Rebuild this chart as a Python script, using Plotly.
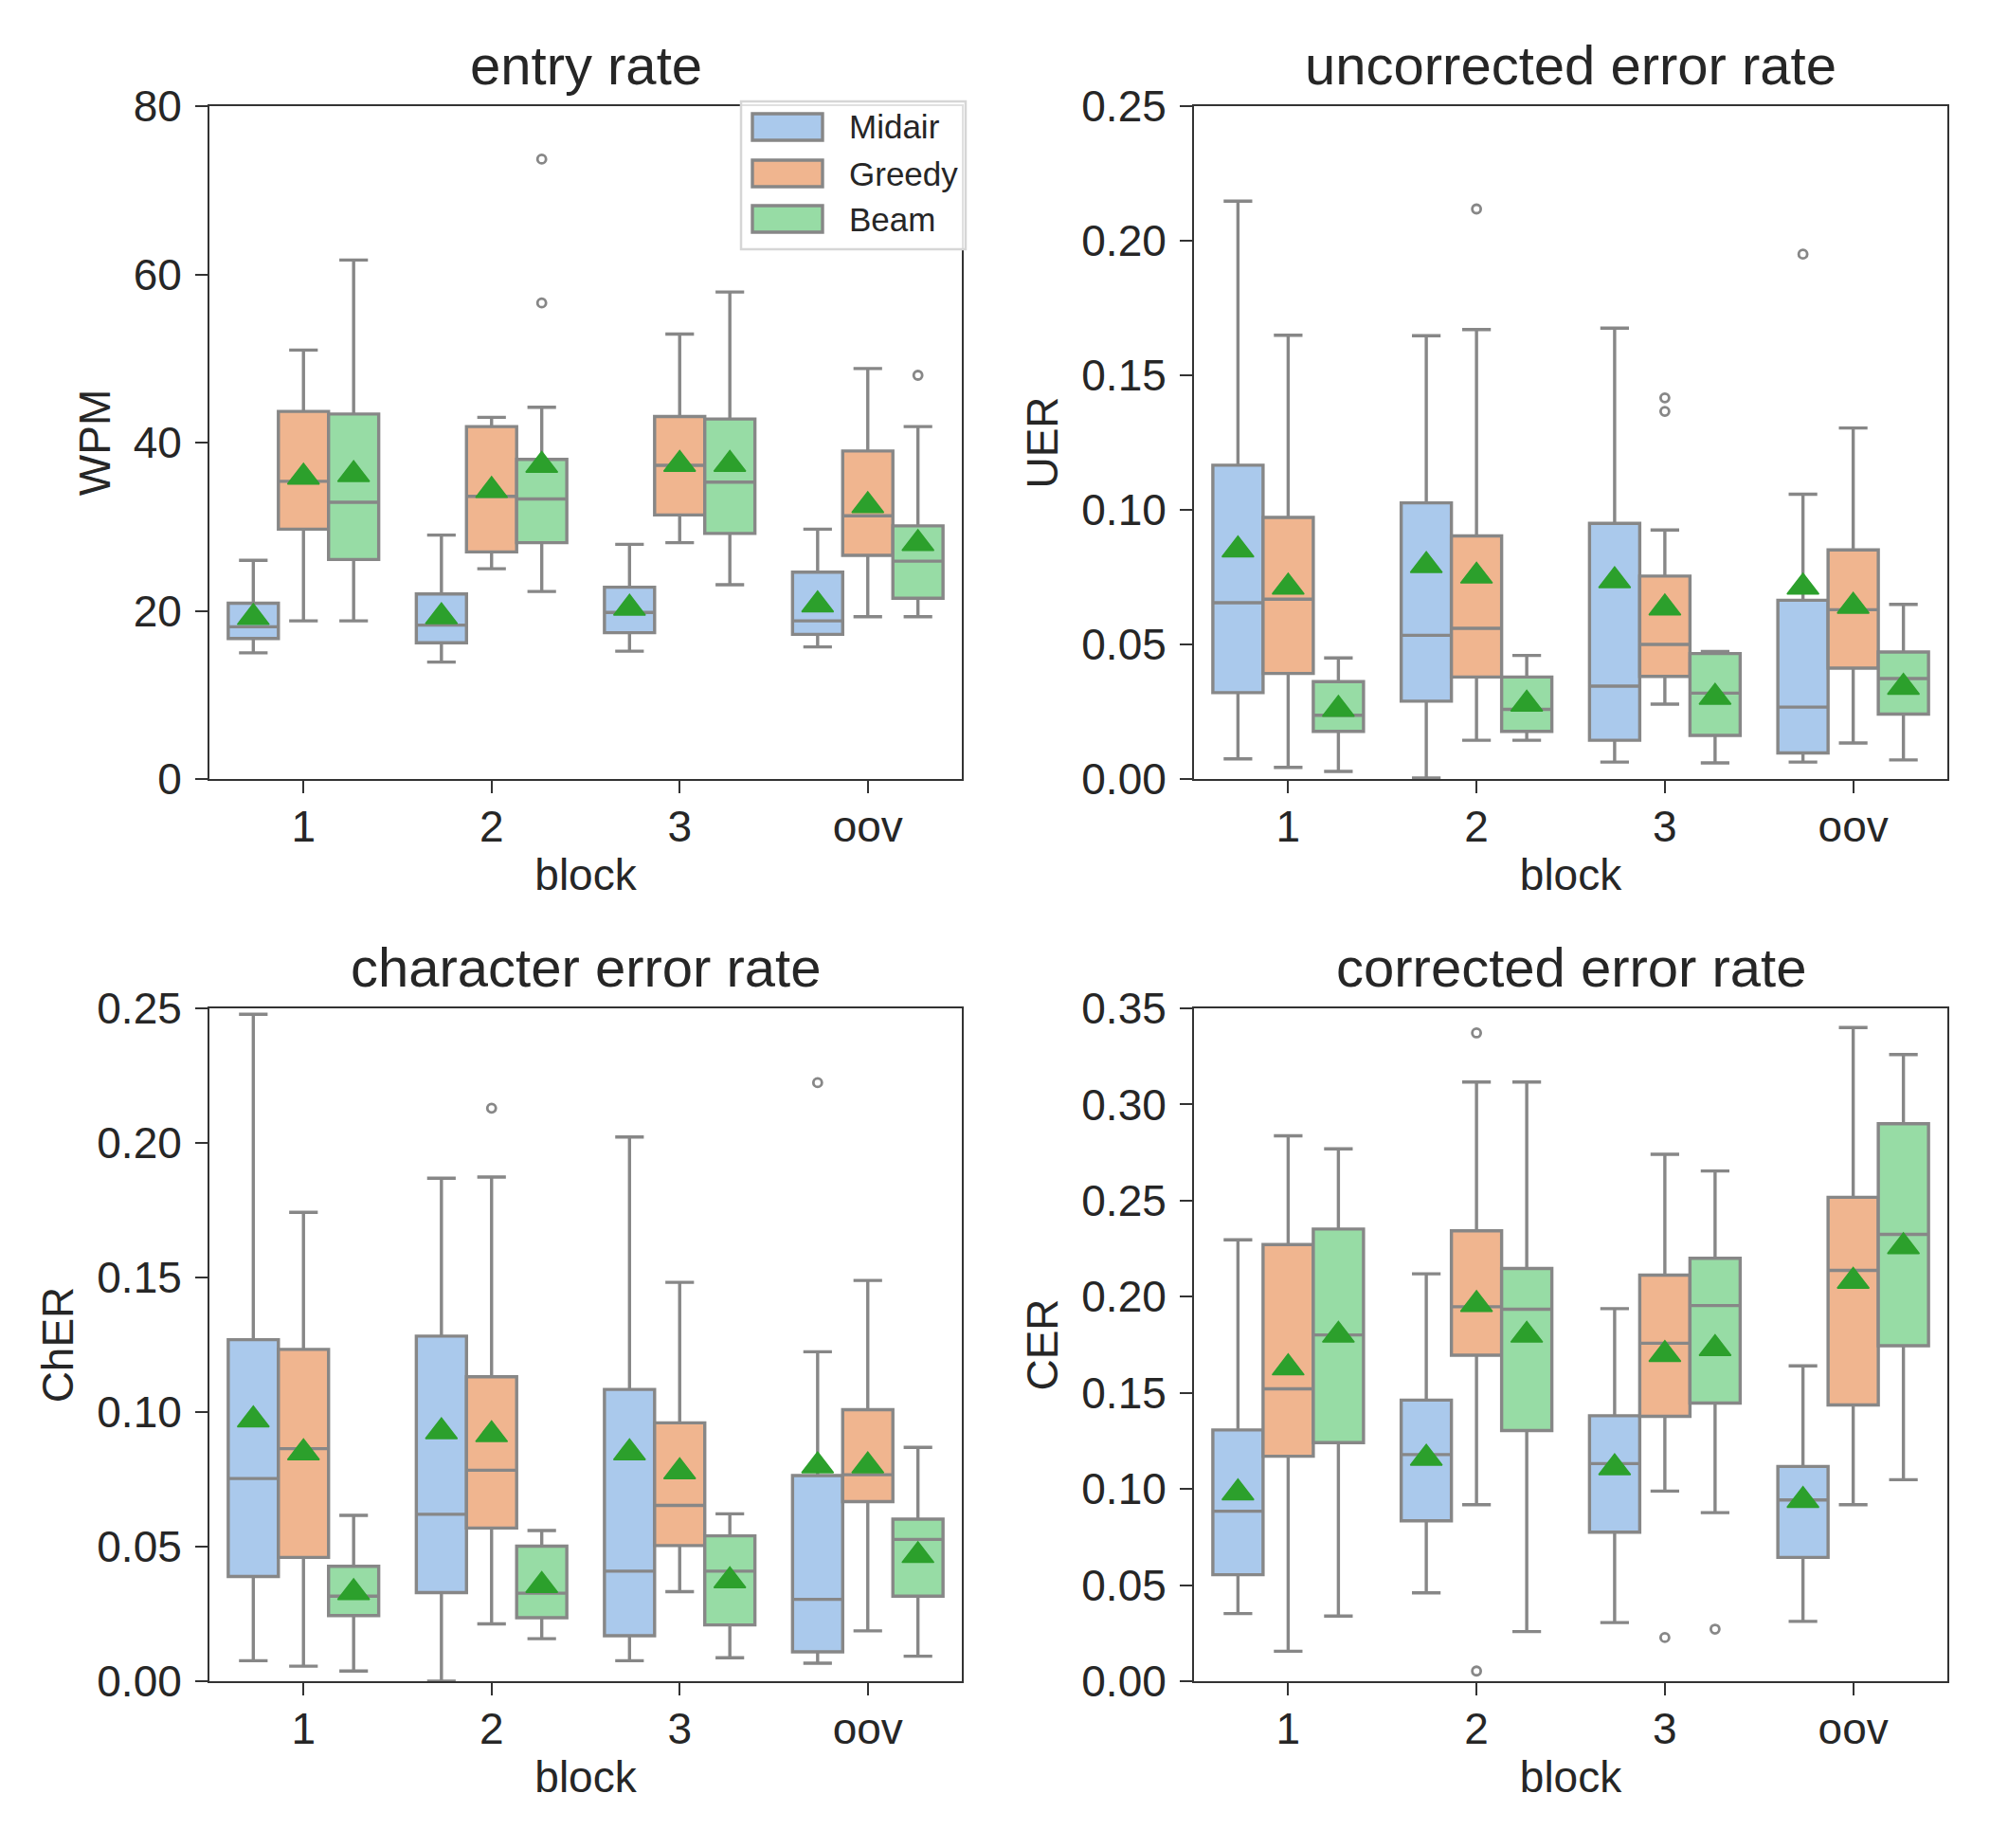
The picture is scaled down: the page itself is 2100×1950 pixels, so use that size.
import plotly.graph_objects as go

BLOCKS = ["1", "2", "3", "oov"]
HUES = ["Midair", "Greedy", "Beam"]

# ---------------- entry rate (WPM) ----------------
WPM_LO = {"Midair": [15.0, 13.9, 15.2, 15.7], "Greedy": [18.8, 25.0, 28.1, 19.3], "Beam": [18.8, 22.3, 23.1, 19.3]}
WPM_Q1 = {"Midair": [16.7, 16.2, 17.4, 17.2], "Greedy": [29.7, 27.0, 31.4, 26.6], "Beam": [26.1, 28.1, 29.2, 21.5]}
WPM_MED = {"Midair": [18.1, 18.3, 19.8, 18.8], "Greedy": [35.4, 33.6, 37.3, 31.3], "Beam": [32.9, 33.3, 35.3, 25.9]}
WPM_Q3 = {"Midair": [20.9, 22.0, 22.8, 24.6], "Greedy": [43.7, 41.9, 43.1, 39.0], "Beam": [43.4, 38.0, 42.8, 30.1]}
WPM_HI = {"Midair": [26.0, 29.0, 27.9, 29.7], "Greedy": [51.0, 43.0, 52.9, 48.8], "Beam": [61.7, 44.2, 57.9, 41.9]}
WPM_MEAN = {"Midair": [19.2, 19.3, 20.3, 20.7], "Greedy": [35.9, 34.3, 37.4, 32.5], "Beam": [36.2, 37.3, 37.4, 28.0]}
WPM_OUT_HUE = ["Beam", "Beam", "Beam"]
WPM_OUT_BLOCK = [1, 1, 3]
WPM_OUT_VAL = [73.7, 56.6, 48.0]

# ---------------- uncorrected error rate (UER) ----------------
UER_LO = {"Midair": [0.0075, 0.0004, 0.0063, 0.0063], "Greedy": [0.0043, 0.0144, 0.0278, 0.0134], "Beam": [0.0028, 0.0144, 0.0060, 0.0071]}
UER_Q1 = {"Midair": [0.0321, 0.0289, 0.0144, 0.0097], "Greedy": [0.0392, 0.0379, 0.0381, 0.0412], "Beam": [0.0177, 0.0177, 0.0162, 0.0241]}
UER_MED = {"Midair": [0.0655, 0.0534, 0.0345, 0.0267], "Greedy": [0.0668, 0.0560, 0.0500, 0.0629], "Beam": [0.0237, 0.0259, 0.0319, 0.0373]}
UER_Q3 = {"Midair": [0.1166, 0.1026, 0.0950, 0.0664], "Greedy": [0.0972, 0.0903, 0.0754, 0.0851], "Beam": [0.0362, 0.0379, 0.0466, 0.0472]}
UER_HI = {"Midair": [0.2147, 0.1647, 0.1675, 0.1058], "Greedy": [0.1649, 0.1670, 0.0925, 0.1304], "Beam": [0.0450, 0.0459, 0.0474, 0.0649]}
UER_MEAN = {"Midair": [0.0851, 0.0793, 0.0737, 0.0713], "Greedy": [0.0713, 0.0754, 0.0636, 0.0642], "Beam": [0.0259, 0.0278, 0.0304, 0.0341]}
UER_OUT_HUE = ["Greedy", "Greedy", "Greedy", "Midair"]
UER_OUT_BLOCK = [1, 2, 2, 3]
UER_OUT_VAL = [0.2118, 0.1416, 0.1366, 0.1950]

# ---------------- character error rate (ChER) ----------------
CHER_LO = {"Midair": [0.0076, 0.0, 0.0076, 0.0067], "Greedy": [0.0056, 0.0213, 0.0333, 0.0187], "Beam": [0.0038, 0.0158, 0.0087, 0.0093]}
CHER_Q1 = {"Midair": [0.0389, 0.0329, 0.0169, 0.0109], "Greedy": [0.0460, 0.0569, 0.0504, 0.0667], "Beam": [0.0244, 0.0236, 0.0209, 0.0316]}
CHER_MED = {"Midair": [0.0753, 0.0620, 0.0409, 0.0304], "Greedy": [0.0864, 0.0784, 0.0653, 0.0767], "Beam": [0.0316, 0.0327, 0.0409, 0.0527]}
CHER_Q3 = {"Midair": [0.1269, 0.1282, 0.1084, 0.0764], "Greedy": [0.1233, 0.1131, 0.0960, 0.1009], "Beam": [0.0427, 0.0502, 0.0540, 0.0602]}
CHER_HI = {"Midair": [0.2478, 0.1869, 0.2022, 0.1224], "Greedy": [0.1742, 0.1873, 0.1482, 0.1489], "Beam": [0.0616, 0.0560, 0.0622, 0.0869]}
CHER_MEAN = {"Midair": [0.0971, 0.0927, 0.0849, 0.0800], "Greedy": [0.0849, 0.0916, 0.0778, 0.0800], "Beam": [0.0329, 0.0356, 0.0373, 0.0467]}
CHER_OUT_HUE = ["Greedy", "Midair"]
CHER_OUT_BLOCK = [1, 3]
CHER_OUT_VAL = [0.2129, 0.2224]

# ---------------- corrected error rate (CER) ----------------
CER_LO = {"Midair": [0.0352, 0.0460, 0.0305, 0.0311], "Greedy": [0.0156, 0.0918, 0.0989, 0.0918], "Beam": [0.0339, 0.0258, 0.0877, 0.1048]}
CER_Q1 = {"Midair": [0.0554, 0.0834, 0.0775, 0.0644], "Greedy": [0.1170, 0.1696, 0.1378, 0.1437], "Beam": [0.1241, 0.1304, 0.1447, 0.1745]}
CER_MED = {"Midair": [0.0884, 0.1179, 0.1132, 0.0943], "Greedy": [0.1521, 0.1948, 0.1758, 0.2137], "Beam": [0.1801, 0.1935, 0.1954, 0.2324]}
CER_Q3 = {"Midair": [0.1307, 0.1462, 0.1381, 0.1117], "Greedy": [0.2271, 0.2343, 0.2112, 0.2517], "Beam": [0.2352, 0.2147, 0.2200, 0.2900]}
CER_HI = {"Midair": [0.2296, 0.2119, 0.1938, 0.1640], "Greedy": [0.2837, 0.3117, 0.2741, 0.3400], "Beam": [0.2769, 0.3117, 0.2654, 0.3260]}
CER_MEAN = {"Midair": [0.098, 0.116, 0.111, 0.094], "Greedy": [0.163, 0.196, 0.170, 0.208], "Beam": [0.180, 0.180, 0.173, 0.226]}
CER_OUT_HUE = ["Greedy", "Greedy", "Greedy", "Beam"]
CER_OUT_BLOCK = [1, 1, 2, 2]
CER_OUT_VAL = [0.3372, 0.0053, 0.0227, 0.0271]

# ---------------- styling ----------------
HUE_COLORS = {"Midair": "#aac9ec", "Greedy": "#f0b58f", "Beam": "#97dca5"}
EDGE = "#878787"
MEAN_COLOR = "#2ca02c"
AXIS_COLOR = "#333333"
TEXT_COLOR = "#262626"
FONT = "Liberation Sans, Arial, Helvetica, sans-serif"
BOX_W = 0.8 / len(HUES)
PAGE_W, PAGE_H = 2100, 1950
BODY_MARGIN = 8  # default page margin around the plot div
W, H = PAGE_W - 2 * BODY_MARGIN, PAGE_H - 2 * BODY_MARGIN


def px_x(v):
    return (v - BODY_MARGIN) / W


def px_y(v):
    return 1 - (v - BODY_MARGIN) / H


PANELS = [
    dict(title="entry rate", ylabel="WPM", lo=WPM_LO, q1=WPM_Q1, med=WPM_MED, q3=WPM_Q3, hi=WPM_HI, mean=WPM_MEAN,
         oh=WPM_OUT_HUE, ob=WPM_OUT_BLOCK, ov=WPM_OUT_VAL, yrange=[0, 80], dtick=20, fmt="d",
         xdom=[px_x(221), px_x(1015)], ydom=[px_y(822), px_y(112)]),
    dict(title="uncorrected error rate", ylabel="UER", lo=UER_LO, q1=UER_Q1, med=UER_MED, q3=UER_Q3, hi=UER_HI, mean=UER_MEAN,
         oh=UER_OUT_HUE, ob=UER_OUT_BLOCK, ov=UER_OUT_VAL, yrange=[0, 0.25], dtick=0.05, fmt=".2f",
         xdom=[px_x(1260), px_x(2055)], ydom=[px_y(822), px_y(112)]),
    dict(title="character error rate", ylabel="ChER", lo=CHER_LO, q1=CHER_Q1, med=CHER_MED, q3=CHER_Q3, hi=CHER_HI, mean=CHER_MEAN,
         oh=CHER_OUT_HUE, ob=CHER_OUT_BLOCK, ov=CHER_OUT_VAL, yrange=[0, 0.25], dtick=0.05, fmt=".2f",
         xdom=[px_x(221), px_x(1015)], ydom=[px_y(1774), px_y(1064)]),
    dict(title="corrected error rate", ylabel="CER", lo=CER_LO, q1=CER_Q1, med=CER_MED, q3=CER_Q3, hi=CER_HI, mean=CER_MEAN,
         oh=CER_OUT_HUE, ob=CER_OUT_BLOCK, ov=CER_OUT_VAL, yrange=[0, 0.35], dtick=0.05, fmt=".2f",
         xdom=[px_x(1260), px_x(2055)], ydom=[px_y(1774), px_y(1064)]),
]

fig = go.Figure()
layout = dict(
    width=W, height=H,
    margin=dict(l=0, r=0, t=0, b=0, autoexpand=False),
    paper_bgcolor="white", plot_bgcolor="white",
    font=dict(family=FONT, color=TEXT_COLOR, size=46),
    showlegend=False,
    boxmode="overlay",
)
annotations = []
shapes = []

for p, P in enumerate(PANELS):
    suf = "" if p == 0 else str(p + 1)
    xa, ya = "x" + suf, "y" + suf
    for h, hue in enumerate(HUES):
        xs = [i + (h - 1) * BOX_W for i in range(len(BLOCKS))]
        fig.add_trace(go.Box(
            x=xs, q1=P["q1"][hue], median=P["med"][hue], q3=P["q3"][hue],
            lowerfence=P["lo"][hue], upperfence=P["hi"][hue],
            width=BOX_W, whiskerwidth=0.57, boxpoints=False,
            fillcolor=HUE_COLORS[hue], line=dict(color=EDGE, width=3.4),
            name=hue, legendgroup=hue, showlegend=False,
            xaxis=xa, yaxis=ya,
        ))
    for h, hue in enumerate(HUES):
        xs = [i + (h - 1) * BOX_W for i in range(len(BLOCKS))]
        fig.add_trace(go.Scatter(
            x=xs, y=P["mean"][hue], mode="markers",
            marker=dict(symbol="triangle-up", size=29, color=MEAN_COLOR,
                        line=dict(width=1.5, color=MEAN_COLOR)),
            showlegend=False, xaxis=xa, yaxis=ya, hoverinfo="y",
        ))
    ox = [b + (HUES.index(hh) - 1) * BOX_W for hh, b in zip(P["oh"], P["ob"])]
    fig.add_trace(go.Scatter(
        x=ox, y=P["ov"], mode="markers",
        marker=dict(symbol="circle-open", size=9, color=EDGE, line=dict(width=2.8, color=EDGE)),
        showlegend=False, xaxis=xa, yaxis=ya, hoverinfo="y",
    ))

    axis_common = dict(showline=True, linecolor=AXIS_COLOR, linewidth=2, mirror=True,
                       ticks="outside", ticklen=13, tickwidth=2, tickcolor=AXIS_COLOR,
                       showgrid=False, zeroline=False, automargin=False,
                       tickfont=dict(size=46, family=FONT, color=TEXT_COLOR))
    layout["xaxis" + suf] = dict(axis_common, domain=P["xdom"], anchor=ya,
                                 range=[-0.5, len(BLOCKS) - 0.5],
                                 tickmode="array", tickvals=list(range(len(BLOCKS))), ticktext=BLOCKS,
                                 ticklabelstandoff=-4,
                                 title=dict(text="block", standoff=10, font=dict(size=46, family=FONT, color=TEXT_COLOR)))
    layout["yaxis" + suf] = dict(axis_common, domain=P["ydom"], anchor=xa,
                                 range=P["yrange"], dtick=P["dtick"], tick0=0, tickformat=P["fmt"],
                                 ticklabelstandoff=5,
                                 title=dict(text=P["ylabel"], standoff=10, font=dict(size=46, family=FONT, color=TEXT_COLOR)))
    annotations.append(dict(text=P["title"], xref="paper", yref="paper",
                            x=(P["xdom"][0] + P["xdom"][1]) / 2, y=P["ydom"][1],
                            xanchor="center", yanchor="bottom", yshift=9, showarrow=False,
                            font=dict(size=58, family=FONT, color=TEXT_COLOR)))

# ---------------- legend (drawn in the first panel's corner) ----------------
LEG_LEFT, LEG_RIGHT, LEG_TOP, LEG_BOTTOM = 782, 1019, 107, 263
SW_LEFT, SW_RIGHT, SW_H = 794, 868, 28
ROW_CENTERS = [134, 183, 231]
TEXT_LEFT = 894
shapes.append(dict(type="rect", xref="paper", yref="paper",
                   x0=px_x(LEG_LEFT), x1=px_x(LEG_RIGHT), y0=px_y(LEG_BOTTOM), y1=px_y(LEG_TOP),
                   fillcolor="rgba(255,255,255,0.85)", line=dict(color="#d6d6d6", width=2.5), layer="above"))
for hue, cy in zip(HUES, ROW_CENTERS):
    shapes.append(dict(type="rect", xref="paper", yref="paper",
                       x0=px_x(SW_LEFT), x1=px_x(SW_RIGHT), y0=px_y(cy + SW_H / 2), y1=px_y(cy - SW_H / 2),
                       fillcolor=HUE_COLORS[hue], line=dict(color=EDGE, width=3.4), layer="above"))
    annotations.append(dict(text=hue, xref="paper", yref="paper", x=px_x(TEXT_LEFT), y=px_y(cy),
                            xanchor="left", yanchor="middle", showarrow=False,
                            font=dict(size=35, family=FONT, color=TEXT_COLOR)))

layout["annotations"] = annotations
layout["shapes"] = shapes
fig.update_layout(**layout)
fig.write_html("out.html")
